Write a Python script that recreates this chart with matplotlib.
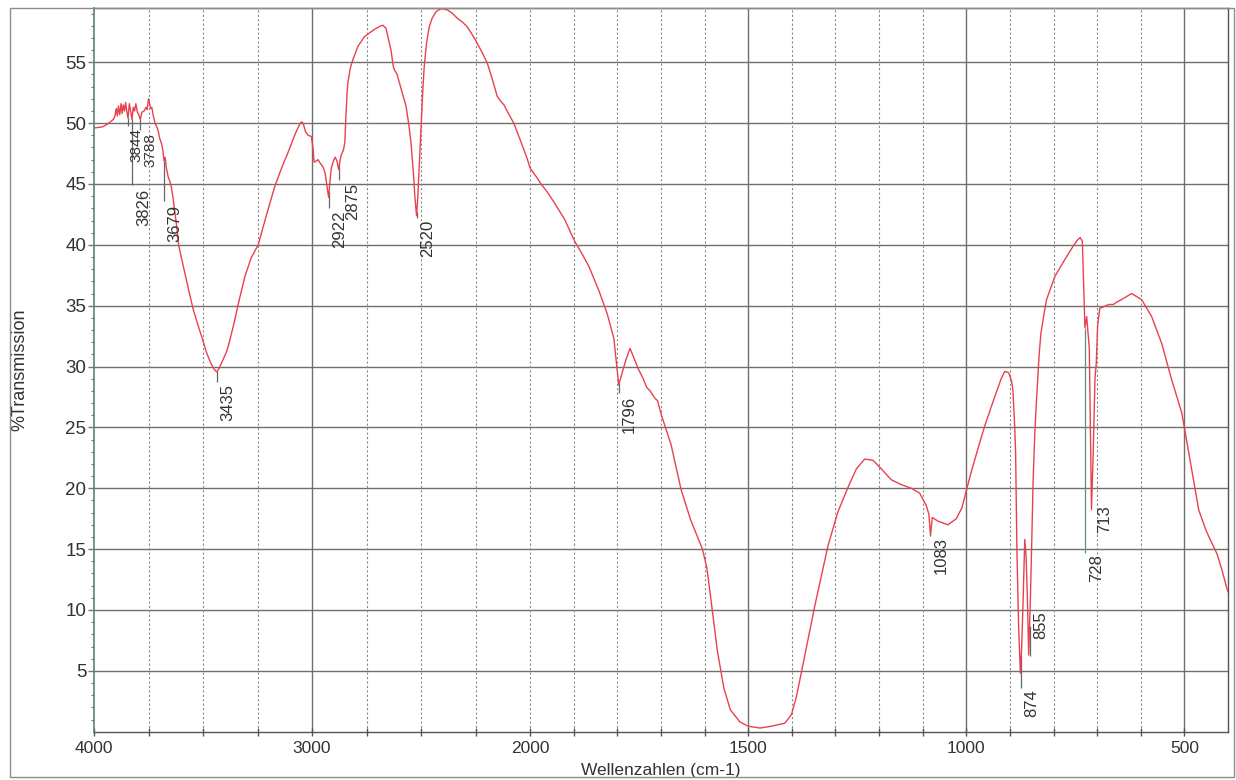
import numpy as np
import matplotlib
matplotlib.use("Agg")
import matplotlib.pyplot as plt
from matplotlib.ticker import FixedLocator, FixedFormatter, NullFormatter
import matplotlib.transforms as mtransforms
from matplotlib.patches import Rectangle

# ---------------- data ----------------
wavenumber = [
    4000, 3980, 3960, 3940, 3925, 3912, 3905, 3898, 3893, 3888, 3882, 3876, 3871, 3866,
    3860, 3855, 3849, 3844, 3838, 3832, 3826, 3820, 3814, 3808, 3801, 3795, 3788, 3780,
    3770, 3762, 3756, 3750, 3745, 3740, 3735, 3728, 3720, 3712, 3705, 3698, 3690, 3684,
    3679, 3674, 3668, 3660, 3652, 3645, 3638, 3630, 3620, 3612, 3600, 3585, 3566, 3545,
    3525, 3505, 3485, 3465, 3450, 3437, 3425, 3410, 3395, 3384, 3360, 3335, 3308, 3280,
    3247, 3210, 3171, 3140, 3110, 3080, 3060, 3049, 3041, 3030, 3018, 3003, 2995, 2991,
    2980, 2973, 2962, 2950, 2940, 2930, 2924, 2918, 2912, 2902, 2894, 2886, 2878, 2872,
    2866, 2856, 2850, 2845, 2840, 2836, 2825, 2813, 2790, 2760, 2730, 2714, 2690, 2676,
    2661, 2650, 2638, 2628, 2623, 2610, 2590, 2569, 2555, 2546, 2535, 2528, 2521, 2515,
    2509, 2503, 2498, 2492, 2486, 2475, 2463, 2450, 2432, 2415, 2402, 2379, 2355, 2333,
    2310, 2288, 2270, 2250, 2220, 2196, 2175, 2151, 2135, 2120, 2100, 2075, 2045, 2014,
    2000, 1984, 1977, 1960, 1947, 1921, 1898, 1880, 1865, 1842, 1823, 1808, 1803, 1797,
    1789, 1780, 1771, 1762, 1752, 1742, 1733, 1725, 1714, 1708, 1699, 1677, 1654, 1632,
    1605, 1595, 1586, 1571, 1556, 1541, 1519, 1500, 1473, 1447, 1416, 1401, 1390, 1378,
    1347, 1317, 1294, 1271, 1252, 1233, 1214, 1195, 1172, 1149, 1126, 1107, 1092, 1086,
    1082, 1078, 1065, 1042, 1023, 1010, 1000, 989, 973, 958, 935, 920, 912, 903,
    896, 893, 889, 887, 884, 880, 876, 873, 870, 866, 863, 860, 857, 853,
    850, 847, 843, 839, 833, 829, 822, 816, 797, 774, 755, 745, 739, 734,
    732, 730, 728, 724, 718, 713, 709, 705, 702, 699, 694, 686, 674, 663,
    655, 644, 621, 598, 575, 552, 529, 506, 483, 467, 450, 437, 425, 414,
    402, 400,
]
transmission = [
    49.6, 49.65, 49.7, 49.9, 50.1, 50.3, 50.5, 51.2, 50.6, 51.4, 50.7, 51.6, 50.8, 51.5,
    51.0, 51.7, 50.9, 50.4, 51.6, 51.0, 50.3, 51.3, 51.0, 51.6, 50.9, 50.7, 50.3, 50.9,
    51.0, 51.3, 51.1, 52.0, 51.6, 51.2, 51.3, 50.6, 50.0, 49.7, 49.3, 48.7, 48.3, 47.7,
    46.9, 47.2, 46.3, 45.6, 45.2, 44.7, 43.9, 42.8, 41.4, 40.0, 39.0, 37.8, 36.3, 34.7,
    33.5, 32.4, 31.2, 30.3, 29.8, 29.55, 29.9, 30.5, 31.1, 31.7, 33.4, 35.4, 37.4, 38.9,
    40.0, 42.4, 44.8, 46.3, 47.6, 49.0, 49.8, 50.1, 50.0, 49.3, 49.0, 48.9, 47.8, 46.8,
    46.9, 47.0, 46.7, 46.4, 45.9, 44.6, 43.9, 45.2, 46.3, 46.9, 47.2, 46.9, 46.2, 46.9,
    47.4, 47.8, 48.4, 50.5, 52.3, 53.3, 54.5, 55.2, 56.3, 57.1, 57.5, 57.7, 57.95, 58.05,
    57.8, 56.9, 56.0, 54.7, 54.4, 54.0, 52.7, 51.4, 49.7, 48.3, 45.8, 43.8, 42.4, 44.0,
    46.4, 48.6, 50.5, 52.8, 54.6, 56.6, 57.9, 58.6, 59.15, 59.35, 59.4, 59.3, 59.0, 58.6,
    58.3, 57.9, 57.4, 56.8, 55.8, 54.9, 53.7, 52.2, 51.8, 51.5, 50.8, 50.0, 48.6, 47.1,
    46.3, 45.5, 45.1, 44.3, 43.6, 42.1, 40.3, 39.2, 38.2, 36.2, 34.3, 32.3, 30.6, 28.5,
    29.5, 30.6, 31.5, 30.7, 29.8, 29.1, 28.3, 28.0, 27.4, 27.2, 26.0, 23.6, 19.9, 17.4,
    15.0, 13.5, 11.0, 6.7, 3.6, 1.8, 0.8, 0.45, 0.3, 0.45, 0.7, 1.4, 2.8, 4.9,
    10.4, 15.3, 18.1, 20.1, 21.6, 22.4, 22.3, 21.6, 20.7, 20.3, 20.0, 19.6, 18.6, 17.9,
    16.2, 17.6, 17.3, 17.0, 17.5, 18.4, 19.8, 21.3, 23.3, 25.1, 27.5, 29.0, 29.6, 29.5,
    28.8, 28.0, 25.0, 23.0, 15.0, 8.5, 4.8, 7.0, 10.5, 15.8, 14.5, 11.0, 6.3, 11.0,
    15.5, 20.4, 24.5, 27.3, 31.0, 32.7, 34.3, 35.5, 37.4, 38.8, 39.9, 40.4, 40.6, 40.3,
    38.0, 35.5, 33.2, 34.1, 31.5, 18.3, 23.0, 29.0, 30.3, 33.3, 34.8, 34.9, 35.1, 35.1,
    35.3, 35.5, 36.0, 35.5, 34.1, 31.9, 28.9, 26.2, 21.5, 18.2, 16.5, 15.5, 14.6, 13.3,
    11.7, 11.5,
]

peak_wn = [3844, 3826, 3788, 3679, 3435, 2922, 2875, 2520, 1796, 1083, 874, 855, 728, 713]
peak_labels = ["3844", "3826", "3788", "3679", "3435", "2922", "2875", "2520",
               "1796", "1083", "874", "855", "728", "713"]

major_ticks = [4000, 3000, 2000, 1500, 1000, 500]
major_tick_labels = ["4000", "3000", "2000", "1500", "1000", "500"]
y_ticks = [5, 10, 15, 20, 25, 30, 35, 40, 45, 50, 55]
y_tick_labels = ["5", "10", "15", "20", "25", "30", "35", "40", "45", "50", "55"]

# ---------------- layout (annotation placement) ----------------
# per peak: bottom of leader line (%T), top of label (%T), x offset of label (px), font size
leader_bottom = [49.8, 44.9, 49.4, 43.6, 28.7, 43.0, 45.3, 42.2, 27.8, 16.1, 3.6, 6.2, 14.7, 18.2]
label_top = [49.6, 44.6, 49.2, 43.3, 28.6, 42.8, 45.1, 42.1, 27.6, 16.0, 3.5, 9.9, 14.6, 18.6]
label_dx = [1.5, 4, 3, 3, 3, 3, 6, 3, 3, 4, 3, 4, 4, 6]
label_fs = [11, 12, 11, 12, 12, 12, 12, 12, 12, 12, 12, 12, 12, 12]
leader_colors = ["#666666"] * 12 + ["#5f8f7f", "#666666"]

# ---------------- figure ----------------
plt.rcParams["font.family"] = ["Liberation Sans", "DejaVu Sans"]

W, H = 1236, 780
fig = plt.figure(figsize=(W / 100, H / 100), dpi=100)
fig.patch.set_facecolor("white")
ax_l, ax_r, ax_t, ax_b = 94, 1228, 8, 731.7
ax = fig.add_axes([ax_l / W, 1 - ax_b / H, (ax_r - ax_l) / W, (ax_b - ax_t) / H])


def fwd(w):
    w = np.asarray(w, dtype=float)
    return np.where(w <= 2000, w / 500.0, 4.0 + (w - 2000.0) / 1000.0)


def inv(u):
    u = np.asarray(u, dtype=float)
    return np.where(u <= 4.0, u * 500.0, 2000.0 + (u - 4.0) * 1000.0)


ax.set_xscale("function", functions=(fwd, inv))
ax.set_xlim(4000, 400)
ax.set_ylim(0, 59.46)

# grid lines
grid_col = "#6f6f6f"
for yv in y_ticks:
    ax.axhline(yv, color=grid_col, lw=1.0, zorder=1)
solid_v = [3000, 1500, 1000, 500]
dashed_v = [3750, 3500, 3250, 2750, 2500, 2250, 2000, 1900, 1800, 1700, 1600,
            1400, 1300, 1200, 1100, 900, 800, 700, 600]
for xv in solid_v:
    ax.axvline(xv, color=grid_col, lw=1.0, zorder=1)
for xv in dashed_v:
    ax.axvline(xv, color="#8a8a8a", lw=0.8, ls=(0, (2, 2)), zorder=1)

# spectrum
ax.plot(wavenumber, transmission, color="#e8414e", lw=1.0, zorder=3)

# peak annotations
wn_arr = np.array(wavenumber, dtype=float)
t_arr = np.array(transmission, dtype=float)
for i, p in enumerate(peak_wn):
    ytop = np.interp(p, wn_arr[::-1], t_arr[::-1])
    ax.vlines(p, leader_bottom[i], ytop, color=leader_colors[i], lw=0.9, zorder=2)
    tr = mtransforms.offset_copy(ax.transData, fig=fig, x=label_dx[i] * 0.72, y=0, units="points")
    ax.text(p, label_top[i], peak_labels[i], rotation=90, ha="left", va="top",
            fontsize=label_fs[i], color="#333333", transform=tr, zorder=4)

# ticks
ax.xaxis.set_major_locator(FixedLocator(major_ticks))
ax.xaxis.set_major_formatter(FixedFormatter(major_tick_labels))
ax.xaxis.set_minor_locator(FixedLocator(dashed_v))
ax.xaxis.set_minor_formatter(NullFormatter())
ax.tick_params(axis="x", which="both", direction="inout", length=6, width=1.0,
               color="#555555", labelsize=12.5, labelcolor="#333333", pad=4)

ax.yaxis.set_major_locator(FixedLocator(y_ticks))
ax.yaxis.set_major_formatter(FixedFormatter(y_tick_labels))
ax.yaxis.set_minor_locator(FixedLocator([v for v in range(1, 60) if v % 5 != 0]))
ax.yaxis.set_minor_formatter(NullFormatter())
ax.tick_params(axis="y", which="major", direction="out", length=4, width=1.0,
               color="#5f7f7f", labelsize=13.5, labelcolor="#333333", pad=1.5)
ax.tick_params(axis="y", which="minor", direction="out", length=2.2, width=0.8,
               color="#5f7f7f")

for side in ["top", "right", "bottom"]:
    ax.spines[side].set_color("#555555")
    ax.spines[side].set_linewidth(1.0)
ax.spines["left"].set_color("#5f7f7f")
ax.spines["left"].set_linewidth(1.2)

ax.set_xlabel("Wellenzahlen (cm-1)", fontsize=12.5, color="#333333")
ax.xaxis.set_label_coords(0.5, -(770 - ax_b) / (ax_b - ax_t))
ax.xaxis.label.set_va("center")
ax.set_ylabel("%Transmission", fontsize=13, color="#333333")
ax.yaxis.set_label_coords(-(ax_l - 20) / (ax_r - ax_l), 0.5)
ax.yaxis.label.set_va("center")

# outer frame
fig.patches.append(Rectangle((10 / W, 3 / H), 1224 / W, 769 / H, transform=fig.transFigure,
                             fill=False, edgecolor="#8c8c8c", lw=1.0))

fig.savefig("out.png", dpi=100)
